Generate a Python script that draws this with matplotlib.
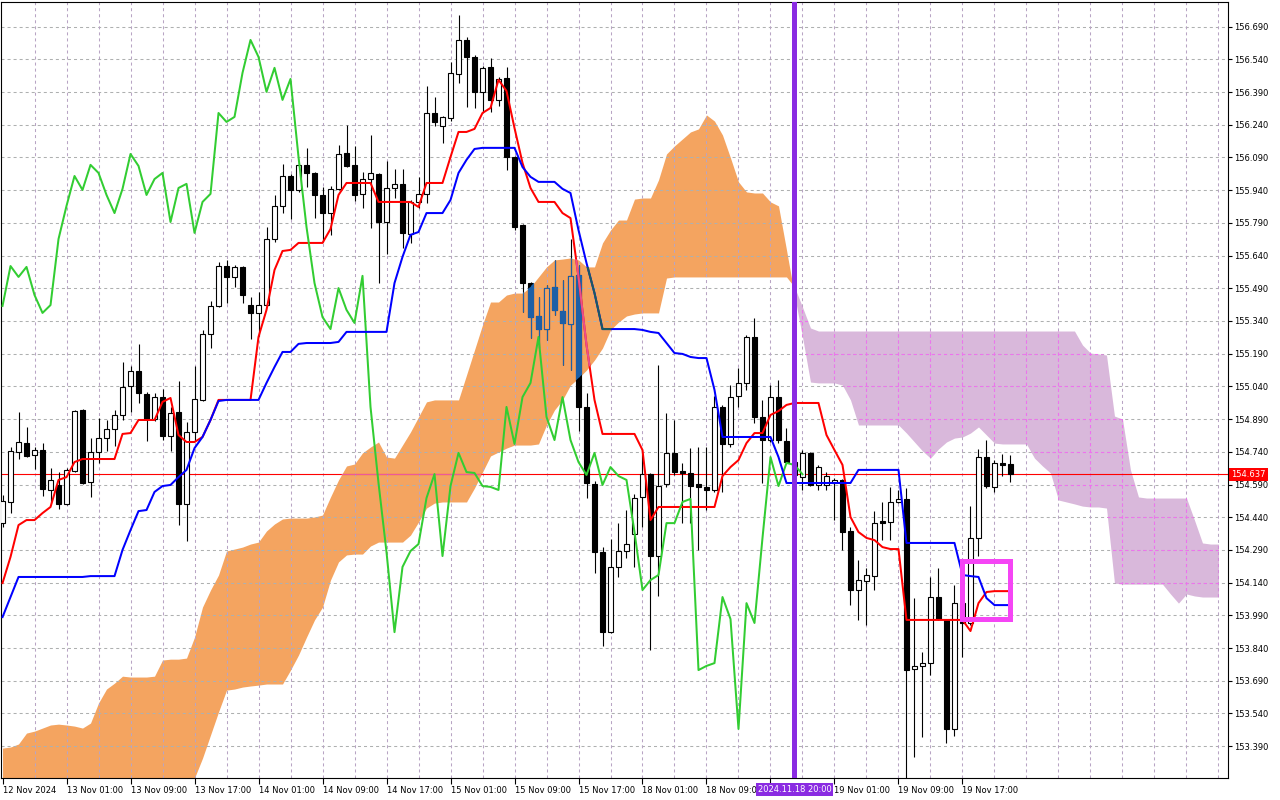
import numpy as np
import matplotlib
matplotlib.use("Agg")
import matplotlib.pyplot as plt
import matplotlib.transforms as mtransforms
from matplotlib.path import Path
from matplotlib.patches import Rectangle

# H1 candles, bar 0 .. bar 126
opens = [154.413, 154.510, 154.739, 154.780, 154.725, 154.748, 154.565, 154.588, 154.501, 154.652,
         154.932, 154.602, 154.739, 154.803, 154.845, 154.909, 155.042, 155.111, 155.005, 154.891,
         154.991, 154.813, 154.923, 154.501, 154.831, 154.978, 155.280, 155.409, 155.592, 155.542,
         155.588, 155.413, 155.377, 155.413, 155.716, 155.868, 156.005, 155.941, 156.056, 156.019,
         155.918, 155.835, 155.946, 156.111, 156.056, 155.923, 155.991, 156.014, 155.794, 155.950,
         155.969, 155.739, 155.886, 155.923, 156.294, 156.235, 156.271, 156.473, 156.629, 156.551,
         156.391, 156.505, 156.354, 156.455, 156.092, 155.780, 155.514, 155.363, 155.303, 155.496,
         155.386, 155.326, 155.551, 154.946, 154.592, 154.280, 153.913, 154.212, 154.285, 154.363,
         154.533, 154.638, 154.262, 154.592, 154.735, 154.652, 154.643, 154.592, 154.579, 154.565,
         154.946, 154.776, 154.996, 155.056, 155.267, 154.900, 154.794, 154.991, 154.790, 154.693,
         154.624, 154.735, 154.588, 154.588, 154.597, 154.611, 154.377, 154.106, 154.147, 154.170,
         154.423, 154.418, 154.510, 154.524, 153.744, 153.758, 153.771, 154.074, 153.969, 153.469,
         154.046, 153.955, 154.345, 154.716, 154.579, 154.689, 154.684]
highs = [154.542, 154.762, 154.923, 154.854, 154.762, 154.780, 154.666, 154.647, 154.666, 154.932,
         154.936, 154.803, 154.895, 154.886, 154.932, 155.152, 155.134, 155.235, 155.014, 155.010,
         155.028, 154.946, 155.065, 154.877, 155.134, 155.299, 155.432, 155.611, 155.620, 155.597,
         155.592, 155.450, 155.473, 155.771, 155.918, 156.060, 156.014, 156.065, 156.134, 156.024,
         155.955, 155.959, 156.147, 156.239, 156.143, 156.024, 156.193, 156.019, 156.074, 156.037,
         156.037, 155.895, 156.001, 156.418, 156.368, 156.280, 156.528, 156.744, 156.643, 156.560,
         156.510, 156.546, 156.459, 156.505, 156.097, 155.785, 155.519, 155.450, 155.505, 155.620,
         155.528, 155.716, 155.597, 155.010, 154.606, 154.303, 154.340, 154.413, 154.473, 154.547,
         154.753, 154.643, 155.138, 154.918, 154.886, 154.689, 154.757, 154.762, 154.762, 154.996,
         154.955, 155.046, 155.124, 155.276, 155.354, 154.978, 155.046, 155.069, 154.849, 154.725,
         154.748, 154.739, 154.680, 154.647, 154.620, 154.615, 154.395, 154.244, 154.207, 154.468,
         154.510, 154.579, 154.565, 154.574, 154.069, 153.822, 154.166, 154.207, 153.973, 154.129,
         154.069, 154.491, 154.753, 154.794, 154.702, 154.730, 154.725]
lows = [154.395, 154.459, 154.707, 154.716, 154.661, 154.537, 154.505, 154.478, 154.496, 154.647,
        154.592, 154.533, 154.689, 154.744, 154.767, 154.886, 154.923, 154.964, 154.790, 154.881,
        154.794, 154.744, 154.404, 154.331, 154.790, 154.973, 155.216, 155.404, 155.423, 155.496,
        155.423, 155.257, 155.271, 155.409, 155.702, 155.835, 155.808, 155.932, 155.955, 155.813,
        155.702, 155.735, 155.941, 156.046, 155.891, 155.858, 155.767, 155.514, 155.647, 155.904,
        155.675, 155.698, 155.858, 155.882, 156.235, 156.157, 156.257, 156.432, 156.322, 156.317,
        156.299, 156.299, 156.326, 156.033, 155.757, 155.381, 155.262, 155.216, 155.253, 155.368,
        155.138, 155.115, 154.835, 154.528, 154.184, 153.849, 153.909, 154.166, 154.253, 154.212,
        154.395, 153.831, 154.079, 154.579, 154.634, 154.413, 154.413, 154.290, 154.473, 154.556,
        154.556, 154.762, 154.946, 155.024, 154.872, 154.597, 154.785, 154.780, 154.689, 154.611,
        154.565, 154.583, 154.565, 154.565, 154.427, 154.290, 154.037, 153.969, 153.946, 154.106,
        154.335, 154.335, 154.505, 153.244, 153.340, 153.432, 153.716, 153.969, 153.404, 153.436,
        153.799, 153.946, 154.262, 154.574, 154.556, 154.629, 154.602]
closes = [154.514, 154.744, 154.785, 154.721, 154.748, 154.569, 154.611, 154.501, 154.657, 154.927,
          154.597, 154.739, 154.803, 154.845, 154.909, 155.037, 155.111, 155.010, 154.891, 154.991,
          154.813, 154.918, 154.501, 154.831, 154.982, 155.280, 155.409, 155.592, 155.542, 155.588,
          155.459, 155.377, 155.413, 155.716, 155.868, 156.005, 155.941, 156.056, 156.019, 155.918,
          155.835, 155.946, 156.106, 156.051, 155.918, 155.991, 156.019, 155.794, 155.950, 155.969,
          155.744, 155.886, 155.923, 156.294, 156.253, 156.276, 156.478, 156.629, 156.551, 156.391,
          156.501, 156.354, 156.450, 156.092, 155.771, 155.514, 155.358, 155.303, 155.491, 155.391,
          155.331, 155.547, 154.946, 154.597, 154.280, 153.913, 154.212, 154.285, 154.317, 154.528,
          154.638, 154.262, 154.583, 154.735, 154.647, 154.643, 154.583, 154.579, 154.565, 154.946,
          154.776, 154.991, 155.056, 155.267, 154.900, 154.794, 154.991, 154.794, 154.693, 154.634,
          154.735, 154.588, 154.670, 154.629, 154.611, 154.372, 154.106, 154.152, 154.175, 154.413,
          154.413, 154.510, 154.524, 153.739, 153.758, 153.771, 154.074, 153.973, 153.469, 154.046,
          153.955, 154.345, 154.716, 154.583, 154.689, 154.680, 154.637]

# Ichimoku lines
tenkan = [154.138, 154.258, 154.404, 154.427, 154.427, 154.459, 154.487, 154.611, 154.624, 154.693,
          154.707, 154.707, 154.707, 154.707, 154.707, 154.822, 154.826, 154.886, 154.886, 154.886,
          154.969, 154.987, 154.817, 154.785, 154.785, 154.808, 154.886, 154.978, 154.978, 154.978,
          154.978, 154.978, 155.267, 155.391, 155.574, 155.661, 155.666, 155.698, 155.698, 155.698,
          155.698, 155.762, 155.918, 155.973, 155.973, 155.973, 155.973, 155.886, 155.886, 155.886,
          155.886, 155.886, 155.863, 155.973, 155.973, 155.973, 156.092, 156.207, 156.207, 156.221,
          156.294, 156.317, 156.446, 156.395, 156.225, 156.065, 155.950, 155.886, 155.886, 155.886,
          155.835, 155.812, 155.542, 155.230, 154.978, 154.822, 154.822, 154.822, 154.822, 154.822,
          154.748, 154.427, 154.487, 154.487, 154.487, 154.487, 154.487, 154.487, 154.487, 154.487,
          154.629, 154.670, 154.702, 154.780, 154.826, 154.826, 154.909, 154.927, 154.955, 154.964,
          154.964, 154.964, 154.964, 154.817, 154.748, 154.680, 154.441, 154.372, 154.345, 154.335,
          154.303, 154.294, 154.294, 153.969, 153.969, 153.969, 153.969, 153.969, 153.969, 153.969,
          153.969, 153.918, 154.046, 154.097, 154.101, 154.101, 154.101]
kijun = [153.982, 154.074, 154.166, 154.166, 154.166, 154.166, 154.166, 154.166, 154.166, 154.166,
         154.166, 154.170, 154.170, 154.170, 154.170, 154.290, 154.381, 154.468, 154.473, 154.556,
         154.583, 154.588, 154.624, 154.657, 154.757, 154.808, 154.886, 154.973, 154.978, 154.978,
         154.978, 154.978, 154.978, 155.056, 155.129, 155.198, 155.198, 155.235, 155.239, 155.239,
         155.239, 155.239, 155.244, 155.290, 155.290, 155.290, 155.290, 155.290, 155.290, 155.514,
         155.634, 155.735, 155.748, 155.835, 155.835, 155.835, 155.895, 156.019, 156.079, 156.129,
         156.134, 156.134, 156.134, 156.134, 156.134, 156.046, 156.001, 155.978, 155.978, 155.978,
         155.946, 155.927, 155.757, 155.606, 155.468, 155.303, 155.303, 155.303, 155.303, 155.303,
         155.299, 155.290, 155.285, 155.239, 155.193, 155.189, 155.175, 155.170, 155.170, 155.024,
         154.808, 154.808, 154.808, 154.808, 154.808, 154.808, 154.808, 154.716, 154.597, 154.597,
         154.597, 154.597, 154.597, 154.597, 154.597, 154.597, 154.597, 154.657, 154.657, 154.657,
         154.657, 154.657, 154.657, 154.322, 154.322, 154.322, 154.322, 154.322, 154.322, 154.322,
         154.175, 154.170, 154.166, 154.069, 154.037, 154.037, 154.037]

# Senkou spans (already shifted 26 bars ahead), bar 0 .. bar 152
span_a = [153.381, 153.386, 153.400, 153.450, 153.459, 153.473, 153.487, 153.491, 153.487, 153.482,
          153.473, 153.496, 153.588, 153.652, 153.679, 153.711, 153.707, 153.707, 153.707, 153.711,
          153.785, 153.789, 153.789, 153.794, 153.890, 154.028, 154.106, 154.175, 154.285, 154.294,
          154.303, 154.317, 154.326, 154.377, 154.409, 154.432, 154.436, 154.436, 154.436, 154.441,
          154.450, 154.533, 154.611, 154.675, 154.684, 154.735, 154.762, 154.785, 154.716, 154.711,
          154.771, 154.831, 154.900, 154.969, 154.978, 154.978, 154.978, 154.978, 155.092, 155.207,
          155.322, 155.427, 155.427, 155.459, 155.468, 155.468, 155.496, 155.542, 155.588, 155.620,
          155.624, 155.629, 155.620, 155.588, 155.588, 155.698, 155.757, 155.803, 155.803, 155.899,
          155.904, 155.904, 155.987, 156.106, 156.143, 156.175, 156.207, 156.221, 156.285, 156.257,
          156.193, 156.088, 155.978, 155.932, 155.927, 155.927, 155.886, 155.868, 155.666, 155.459,
          155.267, 155.060, 155.056, 155.056, 155.056, 155.046, 154.978, 154.863, 154.863, 154.863,
          154.863, 154.863, 154.863, 154.826, 154.785, 154.744, 154.711, 154.753, 154.785, 154.803,
          154.808, 154.826, 154.854, 154.817, 154.780, 154.776, 154.776, 154.776, 154.776, 154.711,
          154.675, 154.643, 154.519, 154.510, 154.501, 154.491, 154.487, 154.487, 154.482, 154.138,
          154.133, 154.133, 154.133, 154.133, 154.133, 154.133, 154.088, 154.046, 154.088, 154.079,
          154.074, 154.074, 154.074]
span_b = [153.189, 153.189, 153.189, 153.189, 153.189, 153.189, 153.189, 153.189, 153.189, 153.189,
          153.189, 153.189, 153.189, 153.189, 153.189, 153.189, 153.189, 153.189, 153.189, 153.189,
          153.189, 153.189, 153.189, 153.189, 153.244, 153.335, 153.441, 153.547, 153.647, 153.652,
          153.661, 153.666, 153.670, 153.675, 153.675, 153.675, 153.739, 153.808, 153.890, 153.969,
          154.028, 154.152, 154.235, 154.267, 154.271, 154.271, 154.308, 154.326, 154.326, 154.326,
          154.326, 154.358, 154.418, 154.482, 154.505, 154.510, 154.510, 154.510, 154.510, 154.574,
          154.647, 154.721, 154.739, 154.757, 154.771, 154.771, 154.771, 154.776, 154.863, 154.932,
          154.978, 155.046, 155.078, 155.115, 155.161, 155.216, 155.299, 155.335, 155.363, 155.372,
          155.377, 155.377, 155.377, 155.537, 155.542, 155.542, 155.542, 155.542, 155.542, 155.542,
          155.542, 155.542, 155.542, 155.542, 155.542, 155.542, 155.542, 155.542, 155.542, 155.496,
          155.404, 155.308, 155.294, 155.294, 155.294, 155.294, 155.294, 155.294, 155.294, 155.294,
          155.294, 155.294, 155.294, 155.294, 155.294, 155.294, 155.294, 155.294, 155.294, 155.294,
          155.294, 155.294, 155.294, 155.294, 155.294, 155.294, 155.294, 155.294, 155.294, 155.294,
          155.294, 155.294, 155.294, 155.294, 155.294, 155.230, 155.193, 155.189, 155.184, 154.904,
          154.890, 154.657, 154.533, 154.528, 154.528, 154.528, 154.528, 154.528, 154.528, 154.427,
          154.322, 154.317, 154.317]

chikou_shift = 26
last_price = 154.637
marked_bar = 99
marked_label = "2024.11.18 20:00"

price_ticks = [153.390, 153.540, 153.690, 153.840, 153.990, 154.140, 154.290, 154.440, 154.590,
               154.740, 154.890, 155.040, 155.190, 155.340, 155.490, 155.640, 155.790, 155.940,
               156.090, 156.240, 156.390, 156.540, 156.690]
label_bars = [0, 8, 16, 24, 32, 40, 48, 56, 64, 72, 80, 88, 96, 104, 112, 120]
# the 18 Nov 17:00 slot sits under the marker label, so it stays empty
time_labels = ["12 Nov 2024", "13 Nov 01:00", "13 Nov 09:00", "13 Nov 17:00", "14 Nov 01:00",
               "14 Nov 09:00", "14 Nov 17:00", "15 Nov 01:00", "15 Nov 09:00", "15 Nov 17:00",
               "18 Nov 01:00", "18 Nov 09:00", "", "19 Nov 01:00", "19 Nov 09:00",
               "19 Nov 17:00"]

plt.rcParams['font.family'] = ['DejaVu Sans']

o = np.array(opens)
h = np.array(highs)
l = np.array(lows)
c = np.array(closes)
bars = np.arange(len(c))
a = np.array(span_a)
b = np.array(span_b)
cloud_x = np.arange(len(a))

fig = plt.figure(figsize=(12.8, 8), dpi=100)
ax = fig.add_axes([1 / 1280, 22 / 800, 1227 / 1280, 776 / 800])
ax.set_xlim(-0.19, 153.19)
ax.set_ylim(153.244, 156.803)

# cloud
orange = '#f4a460'
cloud_up = ax.fill_between(cloud_x, a, b, where=a >= b, interpolate=True,
                           color=orange, lw=0, zorder=1)
cloud_dn = ax.fill_between(cloud_x, a, b, where=a < b, interpolate=True,
                           color='#d9b8db', lw=0, zorder=1)
up_clip = Path.make_compound_path(*cloud_up.get_paths())
dn_clip = Path.make_compound_path(*cloud_dn.get_paths())

# grid, MT4 style dashed
dash = (0, (2.9, 2.9))

def grid(hcol, vcol, clip=None, z=1.5):
    arts = []
    for p in price_ticks:
        arts.append(ax.axhline(p, color=hcol, lw=0.75, ls=dash, zorder=z))
    for gx in range(4, len(cloud_x), 4):
        arts.append(ax.axvline(gx, color=vcol, lw=0.75, ls=dash, zorder=z))
    if clip is not None:
        for art in arts:
            art.set_clip_path(clip, ax.transData)

grid('#aeb0b0', '#b8a4c4')
grid('#f070f0', '#f070f0', clip=dn_clip, z=1.6)

# bid line
ax.axhline(last_price, color='#ff0000', lw=0.8, zorder=2.5)
bid2 = ax.axhline(last_price, color='#ec5a9a', lw=0.8, zorder=2.6)
bid2.set_clip_path(up_clip, ax.transData)

# candles
bull = c >= o
body_lo = np.minimum(o, c)
body_h = np.maximum(np.abs(c - o), 0.003)

def candles(col, bull_face, bear_face, clip=None, z=3):
    wk = ax.vlines(bars, l, h, colors=col, lw=0.8, zorder=z)
    faces = [bull_face if u else bear_face for u in bull]
    bd = ax.bar(bars, body_h, bottom=body_lo, width=0.62, color=faces,
                edgecolor=col, lw=0.8, zorder=z + 0.1)
    if clip is not None:
        wk.set_clip_path(clip, ax.transData)
        for r in bd:
            r.set_clip_path(clip, ax.transData)

candles('black', 'white', 'black')
candles('#1d5fa6', orange, '#1d5fa6', clip=up_clip, z=3.3)

# lines
ax.plot(bars, tenkan, color='#ff0000', lw=1.45, zorder=4)
ax.plot(bars[:len(c) - chikou_shift], c[chikou_shift:], color='#32cd32', lw=1.45, zorder=4.05)
ax.plot(bars, kijun, color='#0000ff', lw=1.45, zorder=4.1)
t2, = ax.plot(bars, tenkan, color='#e8508c', lw=1.45, zorder=4.15)
k2, = ax.plot(bars, kijun, color='#1c5a5e', lw=1.45, zorder=4.2)
t2.set_clip_path(up_clip, ax.transData)
k2.set_clip_path(up_clip, ax.transData)

# vertical marker and box
ax.axvline(marked_bar, color='#8a2be2', lw=3.6, zorder=5)
ax.add_patch(Rectangle((120.0, 153.975), 5.9, 0.262, fill=False, ec='#f545f5',
                       lw=3.6, joinstyle='miter', zorder=6))

# axes look
ax.set_facecolor('white')
for s in ax.spines.values():
    s.set_linewidth(0.8)
    s.set_color('black')
ax.yaxis.tick_right()
ax.set_yticks(price_ticks)
ax.set_yticklabels([f"{p:.3f}" for p in price_ticks])
ax.tick_params(axis='y', direction='out', length=3, width=0.8, pad=1.5, labelsize=6)
ax.set_xticks(label_bars)
ax.set_xticklabels(time_labels, ha='left')
ax.tick_params(axis='x', direction='out', length=4, width=0.8, pad=1.5, labelsize=6)

ytrans = mtransforms.blended_transform_factory(ax.transAxes, ax.transData)
ax.text(1.0 + 3 / 1227, last_price, f"{last_price:.3f}", transform=ytrans, ha='left',
        va='center', color='white', fontsize=6, clip_on=False, zorder=10,
        bbox=dict(boxstyle='square,pad=0.25', fc='#ff0000', ec='none'))
xtrans = mtransforms.blended_transform_factory(ax.transData, ax.transAxes)
ax.text(marked_bar, -0.009, marked_label, transform=xtrans, ha='center', va='top',
        color='white', fontsize=6, clip_on=False, zorder=10,
        bbox=dict(boxstyle='square,pad=0.25', fc='#8a2be2', ec='none'))

fig.savefig('out.png', dpi=100, facecolor='white')
